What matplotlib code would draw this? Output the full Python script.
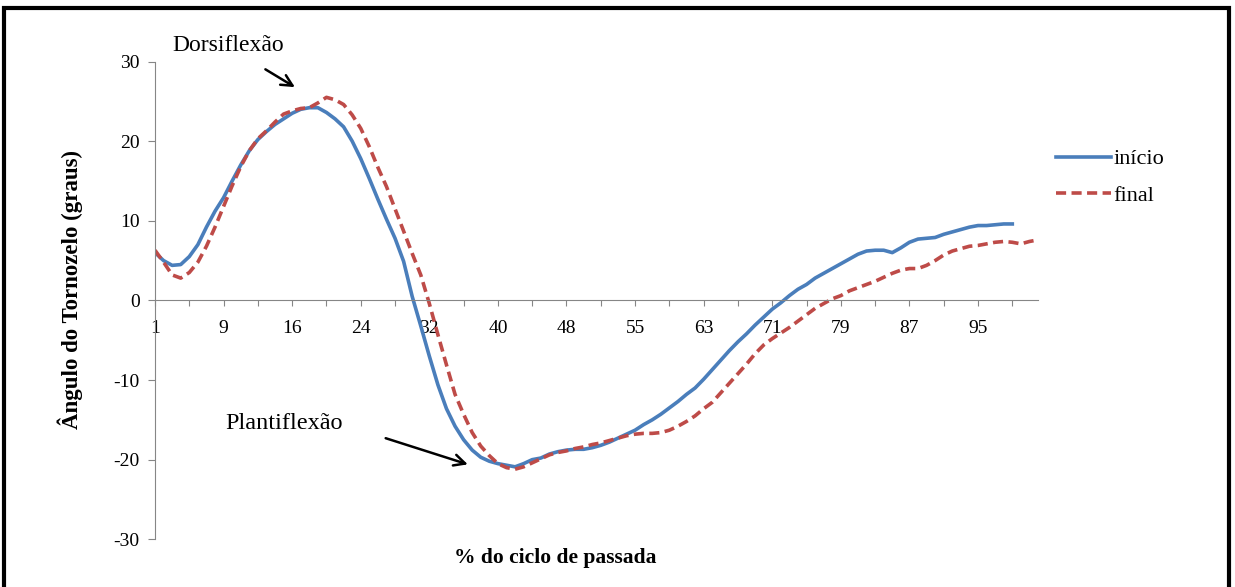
import numpy as np
import matplotlib
matplotlib.use("Agg")
import matplotlib.pyplot as plt
from matplotlib.patches import Rectangle

# ankle angle over the gait cycle (degrees), one value per category
inicio = [6.0, 5.0, 4.4, 4.5, 5.5, 7.0, 9.2, 11.2, 12.9, 15.0,
          17.0, 18.8, 20.2, 21.2, 22.1, 22.8, 23.5, 24.0, 24.2, 24.2,
          23.6, 22.8, 21.8, 20.0, 17.8, 15.3, 12.7, 10.2, 7.8, 4.9,
          0.5, -3.2, -7.0, -10.6, -13.6, -15.8, -17.5, -18.8, -19.7, -20.2,
          -20.5, -20.7, -20.9, -20.5, -20.0, -19.8, -19.3, -19.0, -18.8, -18.7,
          -18.7, -18.5, -18.2, -17.8, -17.3, -16.8, -16.3, -15.6, -15.0, -14.3,
          -13.5, -12.7, -11.8, -11.0, -9.9, -8.7, -7.5, -6.3, -5.2, -4.2,
          -3.1, -2.1, -1.1, -0.3, 0.6, 1.4, 2.0, 2.8, 3.4, 4.0,
          4.6, 5.2, 5.8, 6.2, 6.3, 6.3, 6.0, 6.6, 7.3, 7.7,
          7.8, 7.9, 8.3, 8.6, 8.9, 9.2, 9.4, 9.4, 9.5, 9.6,
          9.6]
final = [6.3, 4.8, 3.2, 2.8, 3.5, 4.8, 6.8, 9.2, 11.8, 14.4,
         16.8, 18.8, 20.3, 21.3, 22.4, 23.4, 23.8, 24.1, 24.2, 24.8,
         25.5, 25.2, 24.6, 23.3, 21.6, 19.3, 16.7, 14.3, 11.5, 8.7,
         5.9, 3.2, -0.4, -4.3, -8.1, -11.8, -14.3, -16.6, -18.3, -19.5,
         -20.5, -21.0, -21.2, -20.9, -20.4, -19.9, -19.4, -19.1, -18.9, -18.6,
         -18.4, -18.1, -17.9, -17.6, -17.3, -17.0, -16.8, -16.7, -16.7, -16.6,
         -16.3, -15.8, -15.2, -14.5, -13.6, -12.8, -11.6, -10.4, -9.2, -8.0,
         -6.7, -5.6, -4.8, -4.1, -3.4, -2.6, -1.8, -1.0, -0.4, 0.2,
         0.6, 1.2, 1.6, 2.0, 2.4, 2.9, 3.4, 3.8, 4.0, 4.0,
         4.4, 5.0, 5.7, 6.2, 6.5, 6.8, 6.9, 7.1, 7.3, 7.4,
         7.3, 7.1, 7.4, 7.6]
xlabels = ['1', '9', '16', '24', '32', '40', '48', '55', '63', '71', '79', '87', '95']

plt.rcParams['font.family'] = ['Liberation Serif', 'DejaVu Serif']
plt.rcParams['axes.unicode_minus'] = False

fig = plt.figure(figsize=(12.35, 5.87), dpi=100)
ax = fig.add_axes([0.1255, 0.0813, 0.715, 0.8139])

ax.plot(np.arange(len(inicio)), inicio, color='#4A7EBB', lw=2.6, label='início')
ax.plot(np.arange(len(final)), final, color='#BE4B48', lw=2.6, dashes=(2.8, 1.5),
        label='final')

ax.set_xlim(0, 103)
ax.set_ylim(-30, 30)
ax.set_yticks(np.arange(-30, 31, 10))

# category axis: a tick every 4 categories, a label every 8
ticks = np.arange(0, 101, 4)
ax.set_xticks(ticks)
lab = []
for t in ticks:
    lab.append(xlabels[t // 8] if t % 8 == 0 else '')
ax.set_xticklabels(lab)

gray = '#868686'
for s in ['top', 'right']:
    ax.spines[s].set_visible(False)
ax.spines['bottom'].set_position(('data', 0))
ax.spines['bottom'].set_color(gray)
ax.spines['left'].set_color(gray)
ax.tick_params(axis='x', direction='out', length=4, color=gray, labelsize=14, pad=10)
ax.tick_params(axis='y', direction='out', length=5, color=gray, labelsize=14, pad=6)

# annotations
ax.text(8.5, 32, 'Dorsiflexão', fontsize=17, ha='center', va='center', clip_on=False)
ax.annotate('', xy=(16.6, 26.6), xytext=(12.6, 29.2), annotation_clip=False,
            arrowprops=dict(arrowstyle='->', lw=1.8, color='black', mutation_scale=20))
ax.text(15.0, -15.5, 'Plantiflexão', fontsize=17.5, ha='center', va='center')
ax.annotate('', xy=(36.8, -20.7), xytext=(26.6, -17.2),
            arrowprops=dict(arrowstyle='->', lw=1.8, color='black', mutation_scale=20))

fig.text(555 / 1235, 1 - 558 / 587, '% do ciclo de passada', fontsize=15.5,
         fontweight='bold', ha='center', va='center')
fig.text(70 / 1235, 1 - 290 / 587, 'Ângulo do Tornozelo (graus)', fontsize=16.5,
         fontweight='bold', ha='center', va='center', rotation=90)

fig.legend(loc='upper left', bbox_to_anchor=(1047 / 1235, 1 - 140 / 587),
           frameon=False, fontsize=16, handlelength=2.5, handletextpad=0.1,
           labelspacing=0.7, borderaxespad=0)

# black frame around the chart (bottom edge falls outside the image)
fig.patches.append(Rectangle((4 / 1235, -0.05), 1225 / 1235, 1.05 - 8 / 587,
                             transform=fig.transFigure, fill=False,
                             edgecolor='black', lw=3, clip_on=False))

fig.savefig('out.png', dpi=100)
